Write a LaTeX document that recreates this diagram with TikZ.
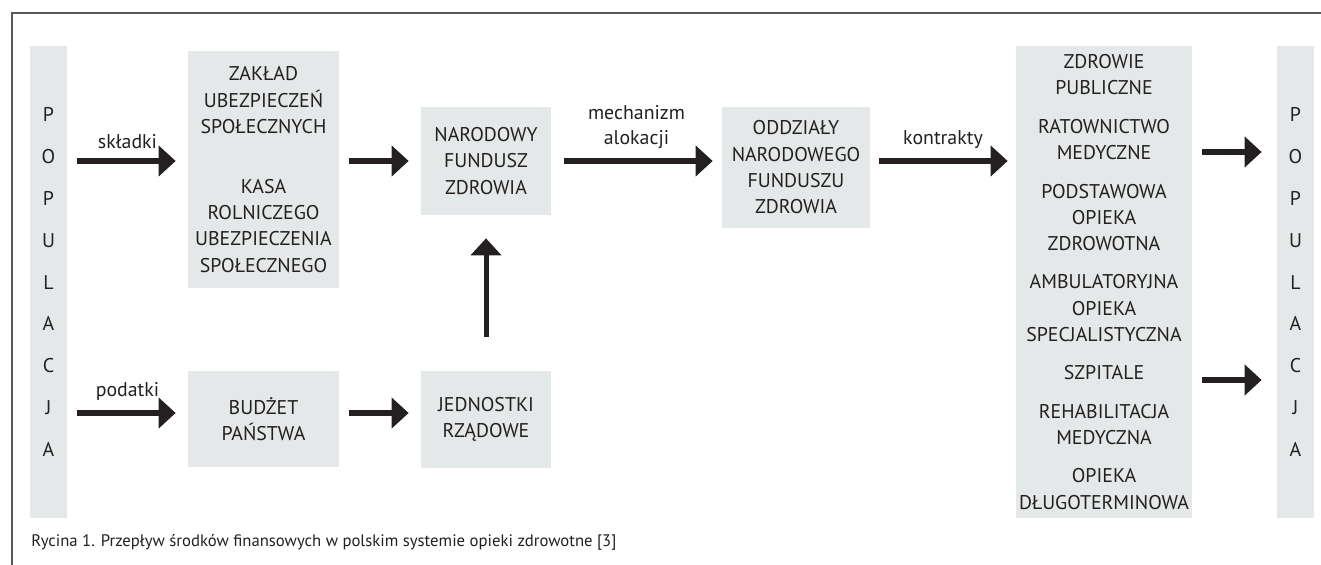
\documentclass[tikz,border=0pt]{standalone}
\usepackage{fontspec}
\setmainfont{PT Sans}
\usetikzlibrary{arrows.meta}
\definecolor{ink}{rgb}{0.14,0.12,0.13}
\definecolor{boxgray}{rgb}{0.90,0.91,0.91}
\definecolor{framegray}{rgb}{0.35,0.35,0.35}

\begin{document}
\begin{tikzpicture}[
    box/.style={fill=boxgray, text=ink, align=center, inner sep=0pt, font=\fontsize{11.3}{15}\selectfont},
    popbox/.style={box, minimum width=0.74cm, minimum height=9.44cm, font=\fontsize{11.3}{23.8}\selectfont},
    flow/.style={draw=ink, line width=0.11cm, -{Triangle[length=0.34cm,width=0.6cm]}, shorten <=0.2cm, shorten >=0.24cm},
    lbl/.style={text=ink, align=center, font=\fontsize{11.3}{14.5}\selectfont}
]
    % page size and frame
    \useasboundingbox (0,0) rectangle (26.42,-11.30);
    \draw[framegray, line width=0.03cm] (0.24,-11.30) -- (0.24,-0.26) -- (26.42,-0.26);

    % draw boxes
    \node[popbox] (popL) at (0.97,-5.64) {P\\O\\P\\U\\L\\A\\C\\J\\A};
    \node[box, minimum width=3.02cm, minimum height=4.74cm] (zus) at (5.27,-3.39)
        {ZAKŁAD\\UBEZPIECZEŃ\\SPOŁECZNYCH\\[19pt]KASA\\ROLNICZEGO\\UBEZPIECZENIA\\SPOŁECZNEGO};
    \node[box, minimum width=3.02cm, minimum height=1.92cm] (budzet) at (5.27,-8.38) {BUDŻET\\PAŃSTWA};
    \node[box, minimum width=2.60cm, minimum height=2.16cm] (nfz) at (9.72,-3.22) {NARODOWY\\FUNDUSZ\\ZDROWIA};
    \node[box, minimum width=2.60cm, minimum height=1.94cm] (jedn) at (9.72,-8.39) {JEDNOSTKI\\RZĄDOWE};
    \node[box, minimum width=2.96cm, minimum height=2.42cm] (oddz) at (15.92,-3.35)
        {ODDZIAŁY\\NARODOWEGO\\FUNDUSZU\\ZDROWIA};
    \node[box, minimum width=3.52cm, minimum height=9.44cm, font=\fontsize{11.3}{14.9}\selectfont] (serv) at (22.08,-5.64)
        {ZDROWIE\\PUBLICZNE\\[7pt]RATOWNICTWO\\MEDYCZNE\\[7pt]PODSTAWOWA\\OPIEKA\\ZDROWOTNA\\[7pt]AMBULATORYJNA\\OPIEKA\\SPECJALISTYCZNA\\[7pt]SZPITALE\\[7pt]REHABILITACJA\\MEDYCZNA\\[7pt]OPIEKA\\DŁUGOTERMINOWA};
    \node[popbox] (popR) at (25.91,-5.64) {P\\O\\P\\U\\L\\A\\C\\J\\A};

    % rows of the arrows
    \coordinate (taxrow) at (0,-8.26);
    \coordinate (outA) at (0,-3.04);
    \coordinate (outB) at (0,-7.60);

    % draw arrows
    \draw[flow] (popL.east |- nfz) -- node[lbl, above=2pt] {składki} (zus.west |- nfz);
    \draw[flow] (zus.east |- nfz) -- (nfz.west);
    \draw[flow, shorten <=0.26cm, shorten >=0.18cm] (nfz.east) -- node[lbl, above=2pt] {mechanizm\\alokacji} (oddz.west |- nfz);
    \draw[flow, shorten <=0.18cm, shorten >=0.16cm] (oddz.east |- nfz) -- node[lbl, above=2pt] {kontrakty} (serv.west |- nfz);
    \draw[flow, shorten >=0.3cm] (serv.east |- outA) -- (popR.west |- outA);
    \draw[flow, shorten >=0.3cm] (serv.east |- outB) -- (popR.west |- outB);

    \draw[flow] (popL.east |- taxrow) -- node[lbl, above=2pt] {podatki} (budzet.west |- taxrow);
    \draw[flow] (budzet.east |- taxrow) -- (jedn.west |- taxrow);
    \draw[flow, line width=0.1cm, shorten <=0.68cm, shorten >=0.46cm] (jedn) -- (nfz);

    % caption
    \node[anchor=west, text=ink, inner sep=0pt, font=\fontsize{9.5}{11}\selectfont] (caption) at (0.62,-10.84)
        {Rycina 1. Przepływ środków finansowych w polskim systemie opieki zdrowotne [3]};
\end{tikzpicture}
\end{document}
